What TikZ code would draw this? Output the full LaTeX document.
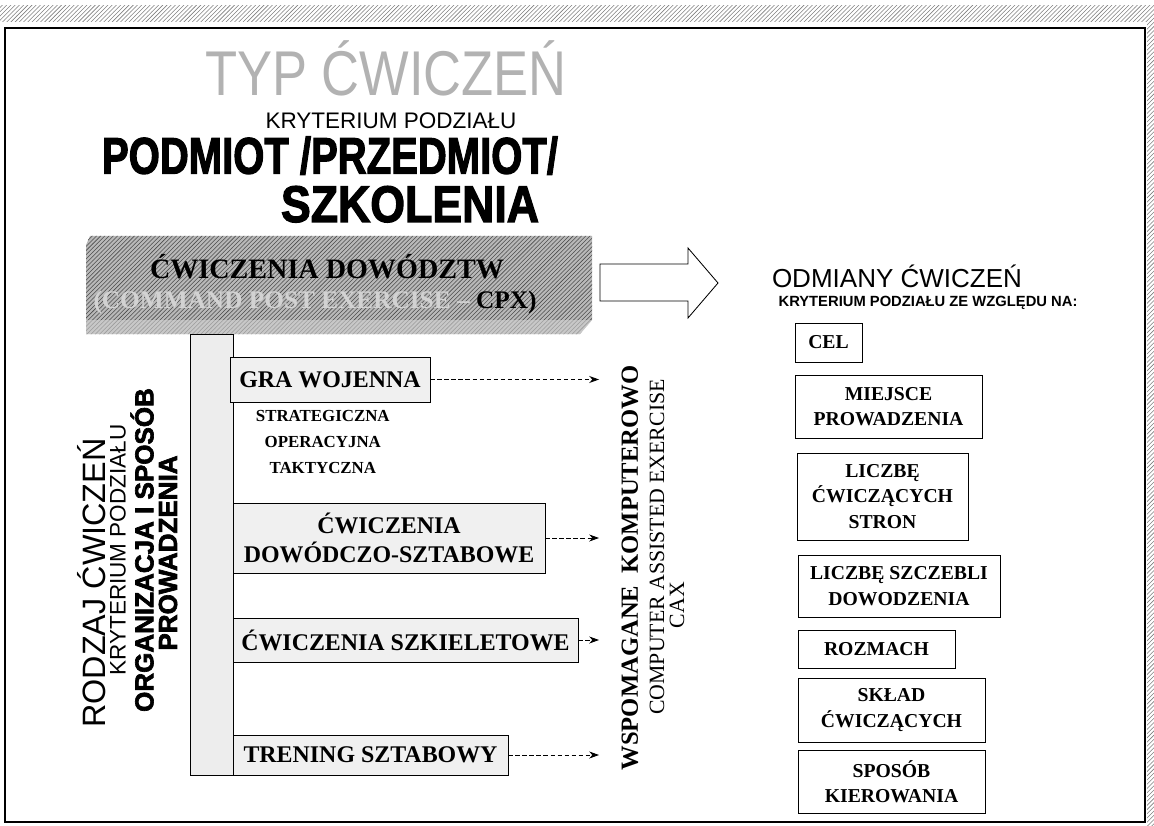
\documentclass[tikz,border=0pt]{standalone}
\usepackage{fontspec}
\usepackage{graphicx}
\setmainfont{Liberation Serif}
\newfontfamily\arialfont{Liberation Sans}
\newfontfamily\heavyfont[FakeBold=2.5]{Liberation Sans}
\usetikzlibrary{arrows.meta,positioning,patterns}

\newcommand{\fsz}[1]{\fontsize{#1}{1.2\dimexpr #1pt\relax}\selectfont}

\tikzstyle{lbox} = [rectangle, draw, fill=gray!12, align=center,
    inner sep=0pt, font=\fsz{17}\bfseries]
\tikzstyle{rbox} = [rectangle, draw, fill=white, align=center,
    inner sep=0pt, font=\fontsize{14}{18}\selectfont\bfseries]
\tikzstyle{dashlink} = [dashed, dash pattern=on 3pt off 2pt, semithick,
    -{Stealth[length=7pt,width=5pt]}]
\tikzstyle{sideword} = [rotate=90, inner sep=0pt]
\tikzstyle{headline} = [inner sep=0pt, text depth=0pt]

\begin{document}
\begin{tikzpicture}[x=0.025cm,y=-0.025cm]
  \useasboundingbox (0,0) rectangle (1154,826);

  % frame of the scanned sheet
  \fill[pattern=north east lines, pattern color=gray] (0,6) rectangle (1154,22);
  \fill[pattern=north east lines, pattern color=gray] (1147,22) rectangle (1154,826);
  \draw[line width=1.2pt] (5,28) rectangle (1145,822);

  % headings
  \node[text=gray!60, font=\arialfont\fsz{45}] (typ) at (386,68)
       {\scalebox{0.83}[1]{TYP ĆWICZEŃ}};
  \node[headline, font=\arialfont\fsz{16}] (kryt) at (391,121) {KRYTERIUM PODZIAŁU};
  \node[headline, font=\heavyfont\bfseries\fsz{36.5}] (podmiot) at (330,155)
       {\scalebox{0.78}[1]{PODMIOT /PRZEDMIOT/}};
  \node[headline, font=\heavyfont\bfseries\fsz{36.5}] (szkol) at (410,204)
       {\scalebox{0.87}[1]{SZKOLENIA}};

  % command exercise bar
  \fill[gray!55] (90,236) -- (592,236) -- (592,320) -- (580,334)
       -- (86,334) -- (86,245) -- cycle;
  \fill[pattern=north east lines, pattern color=black!70] (90,236) -- (592,236)
       -- (592,320) -- (580,334) -- (86,334) -- (86,245) -- cycle;
  \fill[gray!35, opacity=0.6] (86,320) -- (592,320) -- (580,334) -- (86,334) -- cycle;
  \node[font=\fsz{20}\bfseries] (dowodztw) at (327,267) {ĆWICZENIA DOWÓDZTW};
  \node[font=\fsz{18}\bfseries] (cpx) at (315,302)
       {\textcolor{gray!35}{(COMMAND POST EXERCISE –} CPX)};

  % hollow arrow
  \draw[semithick, fill=white] (600,264) -- (688,264) -- (688,248) -- (718,283)
       -- (688,318) -- (688,301) -- (600,301) -- cycle;

  \node[headline, font=\arialfont\fsz{18.5}] (odmiany) at (897,276) {ODMIANY ĆWICZEŃ};
  \node[headline, font=\arialfont\bfseries\fsz{10.5}] (kryt2) at (928,301)
       {KRYTERIUM PODZIAŁU ZE WZGLĘDU NA:};

  % vertical bar and side texts
  \draw[fill=gray!14] (190,334) rectangle (233,775);
  \node[sideword, font=\arialfont\fsz{23}] (rodzaj) at (92,583) {RODZAJ ĆWICZEŃ};
  \node[sideword, font=\arialfont\fsz{16}] (kryt3) at (118,550) {KRYTERIUM PODZIAŁU};
  \node[sideword, font=\heavyfont\bfseries\fsz{18.5}] (org) at (142,550)
       {ORGANIZACJA I SPOSÓB};
  \node[sideword, font=\heavyfont\bfseries\fsz{18.5}] (prow) at (168,553)
       {PROWADZENIA};

  % kinds of exercise
  \node[lbox, minimum width=5cm, minimum height=1.125cm] (gra) at (330,379.5)
       {GRA WOJENNA};
  \node[font=\fontsize{12}{18.5}\selectfont\bfseries, align=center, inner sep=0pt,
        below=0.2cm of gra, xshift=-0.18cm]
       (szczeble) {STRATEGICZNA\\ OPERACYJNA\\ TAKTYCZNA};
  \node[lbox, minimum width=7.8cm, minimum height=1.75cm] (dsz) at (389,538)
       {ĆWICZENIA\\ DOWÓDCZO-SZTABOWE};
  \node[lbox, minimum width=8.625cm, minimum height=1.1cm] (szkiel) at (405.5,640)
       {ĆWICZENIA SZKIELETOWE};
  \node[lbox, minimum width=6.875cm, minimum height=1cm] (trening) at (370.5,755)
       {TRENING SZTABOWY};

  % computer assisted
  \node[sideword, font=\fsz{17.5}\bfseries] (cax1) at (630,568)
       {WSPOMAGANE\ \ KOMPUTEROWO};
  \node[sideword, font=\fsz{15.5}] (cax2) at (657,547) {COMPUTER ASSISTED EXERCISE};
  \node[sideword, font=\fsz{15.5}] (cax3) at (677,605) {CAX};
  \coordinate (cin) at (599,0);

  \draw[dashlink] (gra.east) -- (gra.east -| cin);
  \draw[dashlink] (dsz.east) -- (dsz.east -| cin);
  \draw[dashlink] (szkiel.east) -- (szkiel.east -| cin);
  \draw[dashlink] (trening.east) -- (trening.east -| cin);

  % varieties
  \node[rbox, minimum width=1.675cm, minimum height=0.975cm] (cel) at (828.5,342.5) {CEL};
  \node[rbox, minimum width=4.675cm, minimum height=1.575cm] (miejsce) at (888.5,406.5)
       {MIEJSCE\\ PROWADZENIA};
  \node[rbox, minimum width=4.275cm, minimum height=2.175cm] (strony) at (882.5,496.5)
       {LICZBĘ\\ ĆWICZĄCYCH\\ STRON};
  \node[rbox, minimum width=5.05cm, minimum height=1.55cm] (szczeble2) at (899,586)
       {LICZBĘ SZCZEBLI\\ DOWODZENIA};
  \node[rbox, minimum width=3.925cm, minimum height=0.95cm] (rozmach) at (876.5,649)
       {ROZMACH};
  \node[rbox, minimum width=4.675cm, minimum height=1.6cm] (sklad) at (891.5,710)
       {SKŁAD\\ ĆWICZĄCYCH};
  \node[rbox, minimum width=4.675cm, minimum height=1.575cm] (sposob) at (891.5,781.5)
       {SPOSÓB\\ KIEROWANIA};
\end{tikzpicture}
\end{document}
